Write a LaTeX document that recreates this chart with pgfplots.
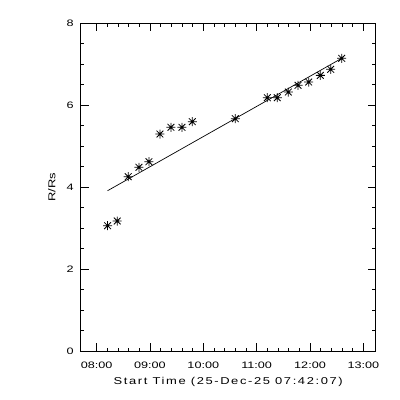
\documentclass[border=0pt]{standalone}
\usepackage{pgfplots}
\pgfplotsset{compat=1.18}
\usepackage{fontspec}
\setmainfont{Liberation Sans}
\pgfdeclareplotmark{ast8}{%
  \pgfpathmoveto{\pgfqpoint{-\pgfplotmarksize}{0pt}}%
  \pgfpathlineto{\pgfqpoint{\pgfplotmarksize}{0pt}}%
  \pgfpathmoveto{\pgfqpoint{0pt}{-\pgfplotmarksize}}%
  \pgfpathlineto{\pgfqpoint{0pt}{\pgfplotmarksize}}%
  \pgfpathmoveto{\pgfqpoint{-0.75\pgfplotmarksize}{-0.75\pgfplotmarksize}}%
  \pgfpathlineto{\pgfqpoint{0.75\pgfplotmarksize}{0.75\pgfplotmarksize}}%
  \pgfpathmoveto{\pgfqpoint{-0.75\pgfplotmarksize}{0.75\pgfplotmarksize}}%
  \pgfpathlineto{\pgfqpoint{0.75\pgfplotmarksize}{-0.75\pgfplotmarksize}}%
  \pgfusepathqstroke}
\begin{document}
\begin{tikzpicture}
\useasboundingbox (0bp,0bp) rectangle (400bp,400bp);
\begin{axis}[
  at={(80.7bp,48.7bp)}, anchor=south west,
  width=295bp, height=328bp, scale only axis,
  xmin=7.70194, xmax=13.231, ymin=0, ymax=8,
  xtick={8,9,10,11,12,13},
  xticklabels={08:00,09:00,10:00,11:00,12:00,13:00},
  ytick={0,2,4,6,8},
  minor x tick num=4, minor y tick num=3,
  tick align=inside,
  major tick length=8bp, minor tick length=3.5bp,
  every tick/.style={black, line width=0.8pt},
  axis line style={line width=0.9pt},
  /pgf/number format/assume math mode=true,
  tick label style={font=\fontsize{9.4}{11}\selectfont\addfontfeature{FakeStretch=1.35}},
  xticklabel style={anchor=base, yshift=-17.4bp},
  yticklabel style={anchor=east, xshift=-3.5bp},
  xlabel style={font=\fontsize{10}{12}\selectfont\addfontfeature{FakeStretch=1.3,LetterSpace=16},
    at={(axis description cs:0.5,-0.1027)}, anchor=base},
  ylabel style={font=\fontsize{10}{12}\selectfont\addfontfeature{FakeStretch=1.3},
    at={(axis description cs:-0.0983,0.5)}, anchor=center},
  xlabel={Start Time (25-Dec-25 07:42:07)},
  ylabel={R/Rs},
]
\addplot[only marks, mark=ast8, mark size=4.5bp, line width=0.8pt, black] coordinates {
(8.206,3.063) (8.386,3.178) (8.593,4.259) (8.793,4.488) (8.981,4.624)
(9.187,5.300) (9.393,5.463) (9.600,5.463) (9.793,5.600) (10.599,5.673)
(11.199,6.185) (11.386,6.185) (11.593,6.324) (11.775,6.488) (11.975,6.568)
(12.193,6.730) (12.388,6.878) (12.594,7.146)
};
\addplot[black, line width=0.7pt] coordinates {(8.206,3.917) (12.594,7.146)};
\end{axis}
\end{tikzpicture}
\end{document}
